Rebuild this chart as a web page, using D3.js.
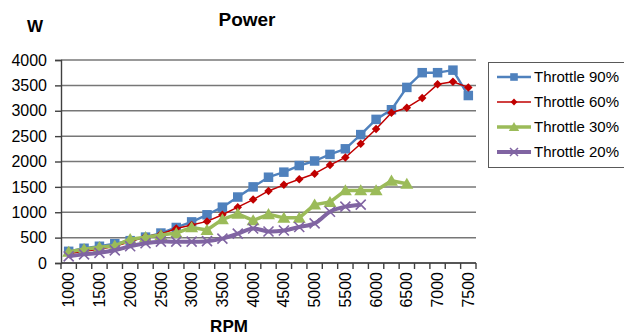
<!DOCTYPE html>
<html>
<head>
<meta charset="utf-8">
<script src="https://cdn.jsdelivr.net/npm/d3@7"></script>
<style>
  html, body { margin: 0; padding: 0; background: #fff; }
  svg { display: block; font-family: "Liberation Sans", Arial, sans-serif; }
</style>
</head>
<body>
<svg id="chart" width="624" height="335"></svg>
<script>
// RPM categories along the x axis
const rpm = [1000, 1250, 1500, 1750, 2000, 2250, 2500, 2750, 3000, 3250, 3500, 3750, 4000,
             4250, 4500, 4750, 5000, 5250, 5500, 5750, 6000, 6250, 6500, 6750, 7000, 7250, 7500];

// Power (W) per throttle setting, one value per RPM step
const throttle90 = [230, 290, 330, 380, 440, 510, 590, 700, 810, 950, 1100, 1300, 1500,
                    1690, 1790, 1920, 2010, 2140, 2250, 2530, 2830, 3020, 3460, 3750, 3750, 3800, 3300];
const throttle60 = [180, 230, 270, 330, 420, 520, 570, 680, 750, 820, 950, 1100, 1250,
                    1420, 1540, 1650, 1760, 1930, 2080, 2350, 2640, 2960, 3060, 3250, 3520, 3570, 3460];
const throttle30 = [220, 270, 310, 340, 470, 510, 550, 590, 700, 650, 860, 970, 840,
                    960, 890, 890, 1150, 1200, 1430, 1430, 1430, 1620, 1560];
const throttle20 = [130, 170, 200, 250, 330, 390, 420, 420, 420, 430, 480, 580, 680,
                    620, 640, 710, 780, 1010, 1110, 1150];

const yTicks = [0, 500, 1000, 1500, 2000, 2500, 3000, 3500, 4000];
const xLabels = [1000, 1500, 2000, 2500, 3000, 3500, 4000, 4500, 5000, 5500, 6000, 6500, 7000, 7500];

const seriesNames = ["Throttle 90%", "Throttle 60%", "Throttle 30%", "Throttle 20%"];
const seriesValues = [throttle90, throttle60, throttle30, throttle20];

const styles = [
  { color: "#4F81BD", width: 2.4, marker: "square", size: 9.5, curve: d3.curveLinear },
  { color: "#C00000", width: 1.5, marker: "diamond", size: 8.5, curve: d3.curveLinear },
  { color: "#9BBB59", width: 3.5, marker: "triangle", size: 13, curve: d3.curveLinear },
  { color: "#8064A2", width: 4, marker: "cross", size: 10, curve: d3.curveCatmullRom.alpha(0.5) }
];

const svg = d3.select("#chart");
const plotLeft = 61, plotRight = 476, plotTop = 60, plotBottom = 263;

const x = d3.scaleBand().domain(rpm).range([plotLeft, plotRight]).padding(0);
const y = d3.scaleLinear().domain([0, 4000]).range([plotBottom, plotTop]);
const cx = d => x(d) + x.bandwidth() / 2;

// horizontal gridlines
svg.append("g")
  .selectAll("line")
  .data(yTicks)
  .join("line")
  .attr("x1", plotLeft).attr("x2", plotRight)
  .attr("y1", d => y(d)).attr("y2", d => y(d))
  .attr("stroke", "#777").attr("stroke-width", 1.5);

// y axis
const yAxis = svg.append("g")
  .attr("transform", `translate(${plotLeft},0)`)
  .call(d3.axisLeft(y).tickValues(yTicks).tickSize(6).tickPadding(8).tickFormat(d3.format("d")));
yAxis.select(".domain").attr("stroke", "#404040").attr("stroke-width", 1.4);
yAxis.selectAll(".tick line").attr("stroke", "#404040").attr("stroke-width", 1.4);
yAxis.selectAll("text").attr("font-size", 16).attr("fill", "#000")
  .attr("font-family", "Liberation Sans, Arial, sans-serif");

// x axis: tick marks sit on category boundaries, labels on every other category
const xAxis = svg.append("g").attr("transform", `translate(0,${plotBottom})`);
xAxis.append("line")
  .attr("x1", plotLeft).attr("x2", plotRight)
  .attr("stroke", "#404040").attr("stroke-width", 1.4);
xAxis.selectAll("line.tk")
  .data(rpm.concat([null]))
  .join("line")
  .attr("class", "tk")
  .attr("x1", d => d === null ? plotRight : x(d))
  .attr("x2", d => d === null ? plotRight : x(d))
  .attr("y1", 0).attr("y2", 6)
  .attr("stroke", "#404040").attr("stroke-width", 1.4);
xAxis.selectAll("text")
  .data(xLabels)
  .join("text")
  .attr("transform", d => `translate(${cx(d)},9) rotate(-90)`)
  .attr("text-anchor", "end")
  .attr("dy", "0.35em")
  .attr("font-size", 16)
  .attr("fill", "#000")
  .text(d => d);

// marker shapes
function markerPath(type, s) {
  const h = s / 2;
  if (type === "square") return `M${-h},${-h}H${h}V${h}H${-h}Z`;
  if (type === "diamond") return `M0,${-h}L${h},0L0,${h}L${-h},0Z`;
  if (type === "triangle") return `M0,${-h * 0.95}L${h},${h * 0.75}L${-h},${h * 0.75}Z`;
  return `M${-h},${-h}L${h},${h}M${h},${-h}L${-h},${h}`;
}

// series lines and markers
seriesValues.forEach((vals, i) => {
  const st = styles[i];
  const pts = vals.map((v, j) => [cx(rpm[j]), y(v)]);
  const g = svg.append("g");
  g.append("path")
    .attr("d", d3.line().curve(st.curve)(pts))
    .attr("fill", "none")
    .attr("stroke", st.color)
    .attr("stroke-width", st.width)
    .attr("stroke-linejoin", "round");
  g.selectAll("path.m")
    .data(pts)
    .join("path")
    .attr("class", "m")
    .attr("transform", d => `translate(${d[0]},${d[1]})`)
    .attr("d", markerPath(st.marker, st.size))
    .attr("fill", st.marker === "cross" ? "none" : st.color)
    .attr("stroke", st.color)
    .attr("stroke-width", st.marker === "cross" ? 1.6 : 0);
});

// titles
svg.append("text").attr("x", 247).attr("y", 26).attr("text-anchor", "middle")
  .attr("font-size", 19).attr("font-weight", "bold").text("Power");
svg.append("text").attr("x", 35).attr("y", 32).attr("text-anchor", "middle")
  .attr("font-size", 17).attr("font-weight", "bold").text("W");
svg.append("text").attr("x", 229).attr("y", 332).attr("text-anchor", "middle")
  .attr("font-size", 17).attr("font-weight", "bold").text("RPM");

// legend
const lg = svg.append("g");
lg.append("rect").attr("x", 488.5).attr("y", 62.5).attr("width", 140).attr("height", 105)
  .attr("fill", "#fff").attr("stroke", "#595959").attr("stroke-width", 1);
seriesNames.forEach((name, i) => {
  const st = styles[i];
  const yy = 77 + i * 25;
  lg.append("line").attr("x1", 497).attr("x2", 531).attr("y1", yy).attr("y2", yy)
    .attr("stroke", st.color).attr("stroke-width", st.width);
  lg.append("path")
    .attr("transform", `translate(514,${yy})`)
    .attr("d", markerPath(st.marker, st.size * 0.8))
    .attr("fill", st.marker === "cross" ? "none" : st.color)
    .attr("stroke", st.color)
    .attr("stroke-width", st.marker === "cross" ? 1.5 : 0);
  lg.append("text").attr("x", 534).attr("y", yy).attr("dy", "0.35em")
    .attr("font-size", 15).attr("fill", "#000").text(name);
});
</script>
</body>
</html>
